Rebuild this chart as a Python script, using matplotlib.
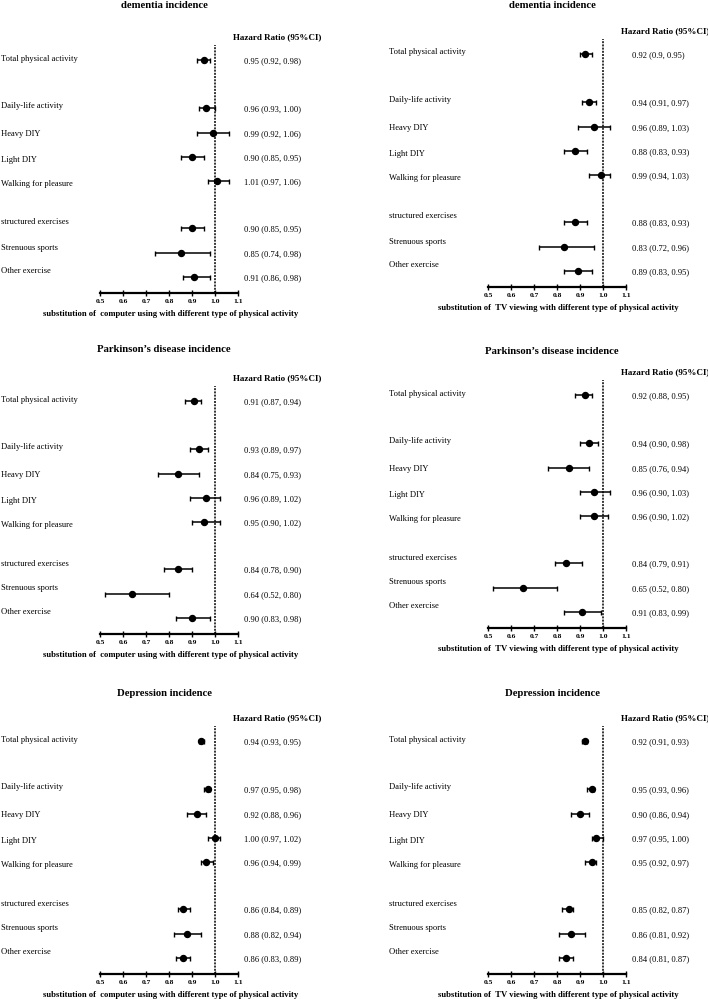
import numpy as np
import matplotlib
matplotlib.use("Agg")
import matplotlib.pyplot as plt

plt.rcParams['font.family'] = ['Liberation Serif', 'DejaVu Serif']

# categories (same in every panel)
categories = ["Total physical activity", "Daily-life activity", "Heavy DIY", "Light DIY",
              "Walking for pleasure", "structured exercises", "Strenuous sports", "Other exercise"]
ticks = [0.5, 0.6, 0.7, 0.8, 0.9, 1.0, 1.1]
tick_labels = ["0.5", "0.6", "0.7", "0.8", "0.9", "1.0", "1.1"]

# dementia, computer using
dem_pc_hr = [0.95, 0.96, 0.99, 0.90, 1.01, 0.90, 0.85, 0.91]
dem_pc_lo = [0.92, 0.93, 0.92, 0.85, 0.97, 0.85, 0.74, 0.86]
dem_pc_hi = [0.98, 1.00, 1.06, 0.95, 1.06, 0.95, 0.98, 0.98]
# dementia, TV viewing
dem_tv_hr = [0.92, 0.94, 0.96, 0.88, 0.99, 0.88, 0.83, 0.89]
dem_tv_lo = [0.90, 0.91, 0.89, 0.83, 0.94, 0.83, 0.72, 0.83]
dem_tv_hi = [0.95, 0.97, 1.03, 0.93, 1.03, 0.93, 0.96, 0.95]
# Parkinson's, computer using
pd_pc_hr = [0.91, 0.93, 0.84, 0.96, 0.95, 0.84, 0.64, 0.90]
pd_pc_lo = [0.87, 0.89, 0.75, 0.89, 0.90, 0.78, 0.52, 0.83]
pd_pc_hi = [0.94, 0.97, 0.93, 1.02, 1.02, 0.90, 0.80, 0.98]
# Parkinson's, TV viewing
pd_tv_hr = [0.92, 0.94, 0.85, 0.96, 0.96, 0.84, 0.65, 0.91]
pd_tv_lo = [0.88, 0.90, 0.76, 0.90, 0.90, 0.79, 0.52, 0.83]
pd_tv_hi = [0.95, 0.98, 0.94, 1.03, 1.02, 0.91, 0.80, 0.99]
# Depression, computer using
dep_pc_hr = [0.94, 0.97, 0.92, 1.00, 0.96, 0.86, 0.88, 0.86]
dep_pc_lo = [0.93, 0.95, 0.88, 0.97, 0.94, 0.84, 0.82, 0.83]
dep_pc_hi = [0.95, 0.98, 0.96, 1.02, 0.99, 0.89, 0.94, 0.89]
# Depression, TV viewing
dep_tv_hr = [0.92, 0.95, 0.90, 0.97, 0.95, 0.85, 0.86, 0.84]
dep_tv_lo = [0.91, 0.93, 0.86, 0.95, 0.92, 0.82, 0.81, 0.81]
dep_tv_hi = [0.93, 0.96, 0.94, 1.00, 0.97, 0.87, 0.92, 0.87]

xlab_pc = "substitution of  computer using with different type of physical activity"
xlab_tv = "substitution of  TV viewing with different type of physical activity"

# text shown exactly as printed in the source where it differs from 2-decimal format
text_override = {("dem_tv", 0): "0.92 (0.9, 0.95)"}

W, H = 708, 999
fig = plt.figure(figsize=(W / 100, H / 100), dpi=100)

# layout: row heights in pixels above the x axis line
rows_y = np.array([233, 185, 160, 136, 112, 65, 40, 16])
label_shift = np.array([1.5, 2, -1, -3, -3, 5.5, 5.5, 6])

panels = [
    ("dem_pc", "dementia incidence", xlab_pc, 100, 293, 288, dem_pc_hr, dem_pc_lo, dem_pc_hi),
    ("dem_tv", "dementia incidence", xlab_tv, 488, 287, 282, dem_tv_hr, dem_tv_lo, dem_tv_hi),
    ("pd_pc", "Parkinson\u2019s disease incidence", xlab_pc, 100, 634, 284, pd_pc_hr, pd_pc_lo, pd_pc_hi),
    ("pd_tv", "Parkinson\u2019s disease incidence", xlab_tv, 488, 628, 277, pd_tv_hr, pd_tv_lo, pd_tv_hi),
    ("dep_pc", "Depression incidence", xlab_pc, 100, 974, 280, dep_pc_hr, dep_pc_lo, dep_pc_hi),
    ("dep_tv", "Depression incidence", xlab_tv, 488, 974, 280, dep_tv_hr, dep_tv_lo, dep_tv_hi),
]

for key, title, xlab, x0, axis_y, title_y, hr, lo, hi in panels:
    ax = fig.add_axes([x0 / W, (H - axis_y) / H, 138 / W, 292 / H])
    ax.set_xlim(0.5, 1.1)
    ax.set_ylim(0, 292)
    ax.patch.set_visible(False)
    hr = np.array(hr)
    lo = np.array(lo)
    hi = np.array(hi)

    ax.errorbar(hr, rows_y, xerr=[hr - lo, hi - hr], fmt='o', color='black',
                ms=4.3, elinewidth=1.1, capsize=1.8, capthick=1, clip_on=False, zorder=3)
    ax.vlines(1.0, 0, 248, colors='black', linestyles=(0, (1.3, 0.8)), lw=1.1)

    for s in ["top", "left", "right"]:
        ax.spines[s].set_visible(False)
    ax.spines["bottom"].set_linewidth(1.6)
    ax.set_yticks([])
    ax.set_xticks(ticks)
    ax.set_xticklabels(tick_labels, fontweight='bold')
    ax.tick_params(axis='x', direction='inout', length=4, width=1, labelsize=5.4, pad=2.5)

    tr = ax.get_yaxis_transform()
    ax.text(0.51, -21, xlab, transform=tr, ha='center', va='center',
            fontsize=6.2, fontweight='bold')
    ax.text(0.465, title_y, title, transform=tr, ha='center', va='center',
            fontsize=7.7, fontweight='bold')
    ax.text(0.965, 256, "Hazard Ratio (95%CI)", transform=tr, ha='left', va='center',
            fontsize=6.5, fontweight='bold')

    for i, cat in enumerate(categories):
        ax.text(-0.715, rows_y[i] + label_shift[i], cat, transform=tr,
                ha='left', va='center', fontsize=6.1)
        txt = text_override.get((key, i), f"{hr[i]:.2f} ({lo[i]:.2f}, {hi[i]:.2f})")
        ax.text(1.04, rows_y[i] - 1, txt, transform=tr, ha='left', va='center', fontsize=6.1)

fig.savefig("out.png", dpi=100)
